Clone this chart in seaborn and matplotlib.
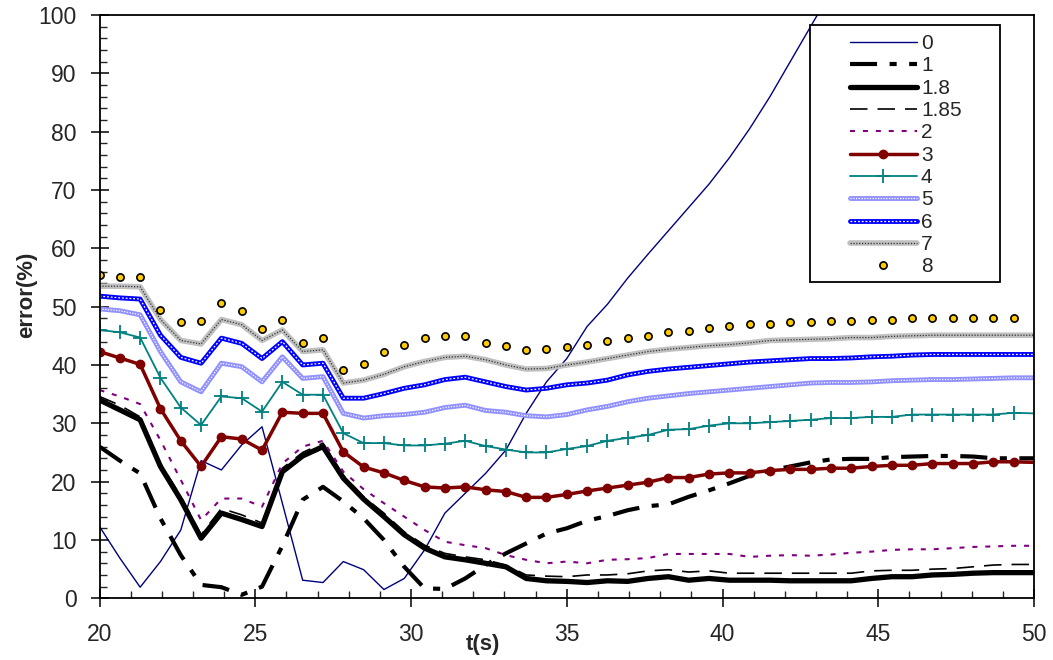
import numpy as np
import pandas as pd
import matplotlib
matplotlib.use("Agg")
import matplotlib.pyplot as plt
import seaborn as sns
from matplotlib.ticker import MultipleLocator
from matplotlib.legend_handler import HandlerTuple
from matplotlib.patches import Rectangle

# time grid (s) and error (%) of each case
t = np.linspace(20, 50, 47)
nan = np.nan

e0 = [12.3, 6.9, 1.9, 6.3, 11.7, 23.6, 22.0, 26.3, 29.4, 16.3, 3.1, 2.7, 6.3, 4.9, 1.5, 3.4,
      8.3, 14.6, 18.0, 21.4, 25.4, 31.7, 37.1, 41.1, 46.6, 50.4, 54.9, 59.0, 63.0, 67.0, 71.0,
      75.5, 80.5, 86.0, 92.0, 98.0, 104.0, nan, nan, nan, nan, nan, nan, nan, nan, nan, nan]
e1 = [26.0, 23.6, 21.4, 13.7, 7.4, 2.3, 1.9, 0.6, 2.0, 9.0, 16.9, 19.1, 16.6, 13.7, 10.0, 5.4,
      1.7, 1.6, 3.4, 5.7, 7.7, 9.4, 11.1, 12.0, 13.3, 14.1, 15.1, 15.8, 16.1, 17.4, 18.5,
      19.7, 21.0, 21.9, 22.6, 23.3, 23.8, 23.9, 23.9, 24.2, 24.3, 24.4, 24.4, 24.3, 24.0, 24.0, 24.0]
e18 = [34.0, 32.3, 30.6, 22.6, 16.9, 10.3, 14.6, 13.5, 12.3, 21.7, 24.4, 26.0, 20.6, 17.0, 14.0, 10.9,
       8.6, 7.1, 6.6, 6.0, 5.4, 3.4, 3.0, 2.9, 2.7, 3.0, 2.9, 3.4, 3.7, 3.1, 3.4,
       3.1, 3.1, 3.1, 3.0, 3.0, 3.0, 3.0, 3.4, 3.7, 3.7, 4.0, 4.1, 4.3, 4.4, 4.4, 4.4]
e185 = [34.6, 33.1, 31.1, 23.1, 17.5, 10.9, 15.4, 14.3, 12.9, 22.3, 25.0, 26.6, 21.1, 17.4, 14.6, 11.4,
        9.1, 7.7, 7.1, 6.6, 5.7, 4.0, 3.8, 3.7, 4.0, 4.0, 4.2, 4.7, 4.9, 4.5, 4.7,
        4.3, 4.3, 4.3, 4.3, 4.3, 4.3, 4.3, 4.7, 4.8, 4.8, 5.0, 5.1, 5.4, 5.7, 5.8, 5.8]
e2 = [35.7, 34.6, 33.3, 27.1, 20.3, 13.4, 17.1, 17.1, 15.7, 23.1, 26.0, 27.0, 21.7, 18.7, 16.3, 14.0,
      11.7, 9.7, 9.1, 8.6, 7.4, 6.6, 6.0, 6.3, 6.0, 6.6, 6.7, 6.9, 7.6, 7.6, 7.6,
      7.6, 7.1, 7.3, 7.4, 7.3, 7.5, 7.8, 8.0, 8.3, 8.4, 8.4, 8.6, 8.8, 8.9, 9.0, 9.0]
e3 = [42.3, 41.2, 40.1, 32.5, 27.0, 22.6, 27.7, 27.3, 25.4, 31.9, 31.7, 31.7, 25.1, 22.5, 21.5, 20.2,
      19.1, 18.9, 19.1, 18.6, 18.3, 17.3, 17.3, 17.8, 18.4, 18.9, 19.4, 19.9, 20.7, 20.7, 21.3,
      21.5, 21.5, 21.9, 22.1, 22.1, 22.3, 22.3, 22.6, 22.8, 22.8, 23.1, 23.1, 23.1, 23.4, 23.4, 23.3]
e4 = [46.0, 45.6, 44.7, 37.8, 32.7, 29.7, 34.6, 34.3, 32.0, 37.1, 34.9, 34.9, 28.3, 26.6, 26.6, 26.2,
      26.2, 26.5, 27.0, 26.1, 25.5, 25.0, 25.0, 25.6, 26.1, 27.0, 27.5, 28.0, 28.9, 29.0, 29.6,
      30.0, 30.0, 30.2, 30.4, 30.6, 30.9, 30.9, 31.1, 31.1, 31.5, 31.5, 31.5, 31.5, 31.5, 31.8, 31.7]
e5 = [49.6, 49.3, 48.6, 42.3, 37.1, 35.4, 40.3, 39.7, 37.1, 41.4, 37.7, 38.0, 31.7, 30.9, 31.3, 31.5,
      31.9, 32.7, 33.1, 32.2, 31.9, 31.3, 31.1, 31.5, 32.3, 32.9, 33.7, 34.3, 34.7, 35.1, 35.4,
      35.7, 36.0, 36.3, 36.6, 36.9, 37.0, 37.0, 37.1, 37.3, 37.4, 37.5, 37.5, 37.6, 37.7, 37.8, 37.8]
e6 = [51.8, 51.5, 51.3, 45.1, 41.3, 40.3, 44.6, 43.7, 41.1, 44.0, 40.0, 40.3, 34.3, 34.3, 35.1, 36.0,
      36.6, 37.5, 37.9, 37.1, 36.3, 35.7, 36.0, 36.6, 36.9, 37.4, 38.3, 38.9, 39.3, 39.6, 39.9,
      40.2, 40.5, 40.7, 40.9, 41.1, 41.1, 41.2, 41.4, 41.5, 41.7, 41.8, 41.8, 41.8, 41.8, 41.8, 41.8]
e7 = [53.5, 53.5, 53.4, 47.8, 44.2, 43.6, 47.8, 46.9, 44.2, 46.0, 42.3, 42.6, 36.9, 37.4, 38.4, 39.7,
      40.6, 41.3, 41.5, 40.9, 40.0, 39.3, 39.4, 40.0, 40.5, 41.1, 41.7, 42.3, 42.7, 43.0, 43.3,
      43.5, 43.8, 44.2, 44.3, 44.4, 44.5, 44.7, 44.7, 44.9, 45.0, 45.1, 45.1, 45.1, 45.1, 45.1, 45.1]
e8 = [55.4, 55.1, 55.1, 49.5, 47.3, 47.5, 50.6, 49.3, 46.2, 47.7, 43.8, 44.6, 39.1, 40.1, 42.3, 43.5,
      44.6, 44.9, 45.0, 43.8, 43.3, 42.6, 42.7, 43.0, 43.5, 44.1, 44.6, 45.0, 45.7, 45.9, 46.4,
      46.6, 47.0, 47.0, 47.3, 47.3, 47.5, 47.5, 47.7, 47.7, 48.0, 48.0, 48.0, 48.0, 48.0, 48.0, nan]

labels = ['0', '1', '1.8', '1.85', '2', '3', '4', '5', '6', '7', '8']

sns.set_style("white")
plt.rcParams['font.family'] = ['Liberation Sans', 'DejaVu Sans']

fig = plt.figure(figsize=(10.53, 6.6), dpi=100)
ax = fig.add_axes([0.0945, 0.0935, 0.8875, 0.8838])


def draw(y, **kw):
    kw.setdefault('markeredgewidth', 1)
    sns.lineplot(x=t, y=y, ax=ax, estimator=None, sort=False, legend=False, **kw)
    return ax.lines[-1]


mk = list(range(46))
l0 = draw(e0, color='#000080', lw=1)
l1 = draw(e1, color='black', lw=3, linestyle=(0, (6.5, 3, 1.7, 3)))
l18 = draw(e18, color='black', lw=3.8)
l185 = draw(e185, color='black', lw=1.2, linestyle=(0, (10.5, 6)))
l2 = draw(e2, color='#800080', lw=1.5, linestyle=(0, (2.4, 3.8)))
l3 = draw(e3, color='#800000', lw=2.5, marker='o', ms=6, mec='#800000', markevery=mk)
l4 = draw(e4, color='#008080', lw=1.3, marker='+', ms=10, mec='#008080',
          markeredgewidth=1.3, markevery=mk)
l5 = draw(e5, color='#9090ff', lw=3.5)
o5 = draw(e5, color='white', lw=0.9, linestyle=(0, (1, 1.2)))
l6 = draw(e6, color='#0000ff', lw=3.5)
o6 = draw(e6, color='white', lw=0.9, linestyle=(0, (1.5, 1.5)))
l7 = draw(e7, color='#c0c0c0', lw=4)
o7 = draw(e7, color='#333333', lw=0.9, linestyle=(0, (1, 1.3)))
l8 = draw(e8, color='#ffcc00', linestyle='', marker='o', ms=5.2, mec='black', markeredgewidth=1.2)

ax.set_xlim(20, 50)
ax.set_ylim(0, 100)
ax.set_xticks(range(20, 51, 5))
ax.set_yticks(range(0, 101, 10))
ax.xaxis.set_minor_locator(MultipleLocator(1))
ax.yaxis.set_minor_locator(MultipleLocator(2))
ax.tick_params(which='major', direction='inout', length=13, width=1.3, labelsize=16.5,
               bottom=True, left=True, top=False, right=False)
ax.tick_params(axis='x', which='major', pad=11)
ax.tick_params(axis='y', which='major', pad=10)
ax.tick_params(which='minor', direction='in', length=5, width=1, bottom=True, left=True)
for s in ax.spines.values():
    s.set_color('black')
    s.set_linewidth(1.3)

ax.set_xlabel('t(s)', fontsize=16, fontweight='bold')
ax.set_ylabel('error(%)', fontsize=16, fontweight='bold')
ax.xaxis.set_label_coords(0.41, -0.062)
ax.yaxis.set_label_coords(-0.067, 0.52)

# legend frame drawn by hand (Excel style box)
ax.add_patch(Rectangle((0.7603, 0.5423), 0.2033, 0.4406, transform=ax.transAxes,
                       facecolor='white', edgecolor='black', lw=1.3, zorder=5))
handles = [l0, l1, l18, l185, l2, l3, l4, (l5, o5), (l6, o6), (l7, o7), l8]
leg = ax.legend(handles, labels, handler_map={tuple: HandlerTuple(ndivide=1, pad=0)},
                loc='upper left', bbox_to_anchor=(0.792, 0.985), frameon=False,
                borderpad=0, handlelength=3.2, handletextpad=0.2, labelspacing=0.16,
                fontsize=15)
leg.set_zorder(6)

fig.savefig('out.png', dpi=100)
